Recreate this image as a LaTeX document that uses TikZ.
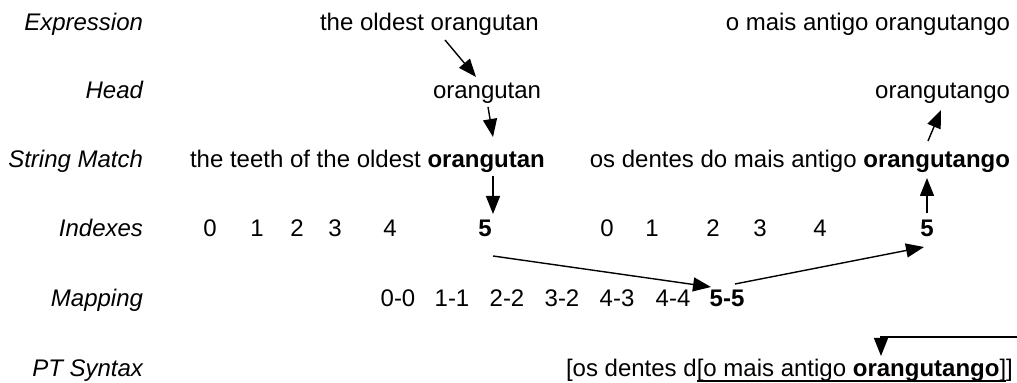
\documentclass[tikz,border=0pt]{standalone}
\usepackage{fontspec}
\setmainfont{Liberation Sans}
\usetikzlibrary{arrows.meta}
\begin{document}
\begin{tikzpicture}[x=0.5pt,y=-0.5pt,
  every node/.style={inner sep=0pt,outer sep=0pt,font=\fontsize{12}{14}\selectfont},
  lbl/.style={anchor=base east,font=\fontsize{12}{14}\selectfont\itshape},
  txt/.style={anchor=base west},
  txtr/.style={anchor=base east},
  num/.style={anchor=base},
  arr/.style={line width=0.7pt,-{Triangle[length=9pt,width=7pt]}}]
\useasboundingbox (0,0) rectangle (1017,383);
% row labels
\node[lbl] (lexp) at (143,31) {Expression};
\node[lbl] (lhead) at (143,99) {Head};
\node[lbl] (lsm) at (143,168) {String Match};
\node[lbl] (lidx) at (143,237) {Indexes};
\node[lbl] (lmap) at (143,307) {Mapping};
\node[lbl] (lpt) at (143,377) {PT Syntax};
% expression
\node[txt] (expL) at (320,31) {the oldest orangutan};
\node[txtr] (expR) at (1010,31) {o mais antigo orangutango};
% head
\node[txt] (headL) at (433,99) {orangutan};
\node[txtr] (headR) at (1010,99) {orangutango};
% string match
\node[txt] (smL) at (190,168) {the teeth of the oldest \textbf{orangutan}};
\node[txtr] (smR) at (1010,168) {os dentes do mais antigo \textbf{orangutango}};
% indexes
\node[num] (iL0) at (210,237) {0};
\node[num] (iL1) at (257,237) {1};
\node[num] (iL2) at (297,237) {2};
\node[num] (iL3) at (335,237) {3};
\node[num] (iL4) at (390,237) {4};
\node[num] (iL5) at (485,237) {\textbf{5}};
\node[num] (iR0) at (607,237) {0};
\node[num] (iR1) at (652,237) {1};
\node[num] (iR2) at (713,237) {2};
\node[num] (iR3) at (760,237) {3};
\node[num] (iR4) at (820,237) {4};
\node[num] (iR5) at (927,237) {\textbf{5}};
% mapping
\node[num] (m0) at (398,307) {0-0};
\node[num] (m1) at (452,307) {1-1};
\node[num] (m2) at (507,307) {2-2};
\node[num] (m3) at (562,307) {3-2};
\node[num] (m4) at (617,307) {4-3};
\node[num] (m5) at (673,307) {4-4};
\node[num] (m6) at (727,307) {\textbf{5-5}};
% PT syntax
\node[txt] (pt1) at (566,377) {[os dentes d};
\node[txt] (pt2) at (pt1.base east) {[o mais antigo};
\node[txt] (pt3) at (pt2.base east) {\hspace*{0.278em}\textbf{orangutango}};
\node[txt] (pt4) at (pt3.base east) {]};
\node[txt] (pt5) at (pt4.base east) {]};
\draw[line width=0.6pt] ([yshift=-2pt]pt2.base west) -- ([yshift=-2pt]pt4.base east);
% connector end points
\coordinate (a1s) at (445,40);  \coordinate (a1e) at (476,77);
\coordinate (a2s) at (488,107); \coordinate (a2e) at (493,137);
\coordinate (a3s) at (493,176); \coordinate (a3e) at (493,214);
\coordinate (a4s) at (493,256); \coordinate (a4e) at (711,287);
\coordinate (a5s) at (735,284); \coordinate (a5e) at (924,247);
\coordinate (a6s) at (927,213); \coordinate (a6e) at (927,178);
\coordinate (a7s) at (928,141); \coordinate (a7e) at (941,110);
\coordinate (a8s) at (1017,337); \coordinate (a8e) at (881,356);
\draw[arr] (a1s) -- (a1e);
\draw[arr] (a2s) -- (a2e);
\draw[arr] (a3s) -- (a3e);
\draw[arr] (a4s) -- (a4e);
\draw[arr] (a5s) -- (a5e);
\draw[arr] (a6s) -- (a6e);
\draw[arr] (a7s) -- (a7e);
\draw[arr] (a8s) -| (a8e);
\end{tikzpicture}
\end{document}
